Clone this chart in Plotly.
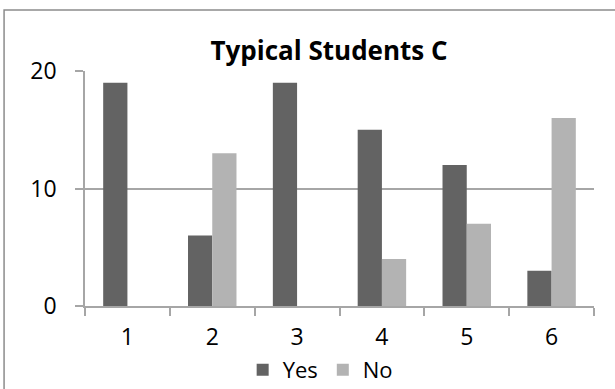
import plotly.graph_objects as go

categories = ["1", "2", "3", "4", "5", "6"]
yes_values = [19, 6, 19, 15, 12, 3]
no_values = [0, 13, 0, 4, 7, 16]
y_ticks = [0, 10, 20]

FONT = "Open Sans"
GRID = "#a6a6a6"

fig = go.Figure()
fig.add_trace(go.Bar(name="Yes", x=categories, y=yes_values,
                     marker=dict(color="#636363", line=dict(width=0))))
fig.add_trace(go.Bar(name="No", x=categories, y=no_values,
                     marker=dict(color="#b3b3b3", line=dict(width=0))))

fig.update_layout(
    width=615, height=389,
    margin=dict(l=85, r=21, t=71, b=83, autoexpand=False),
    paper_bgcolor="white", plot_bgcolor="white",
    barmode="group", bargap=1.5 / 3.5, bargroupgap=0,
    font=dict(family=FONT, size=23, color="black"),
    title=dict(text="<b>Typical Students C</b>", x=0.535, xanchor="center",
               xref="container", y=1 - 51 / 389, yref="container", yanchor="middle",
               font=dict(family=FONT, size=26, color="black")),
    showlegend=True,
    legend=dict(orientation="h", x=0.462, xanchor="center", y=-0.272, yanchor="middle",
                font=dict(family=FONT, size=22), itemwidth=30, tracegroupgap=0,
                bgcolor="rgba(0,0,0,0)"),
    xaxis=dict(type="category", tickson="boundaries", ticks="outside", ticklen=8,
               tickcolor=GRID, tickwidth=1.5, showline=True, linecolor=GRID, linewidth=1.5,
               showgrid=False, ticklabelstandoff=10, fixedrange=True),
    yaxis=dict(range=[0, 20], tickvals=y_ticks, ticks="outside", ticklen=8,
               tickcolor=GRID, tickwidth=1.5, showline=True, linecolor=GRID, linewidth=1.5,
               showgrid=True, gridcolor=GRID, gridwidth=1.5, zeroline=False,
               ticklabelstandoff=14, fixedrange=True),
)

# chart frame (runs off the right and bottom edges)
fig.add_shape(type="rect", xref="paper", yref="paper",
              x0=-0.159, x1=1.2, y0=-0.5, y1=1.2596,
              line=dict(color="#8c8c8c", width=1.5), fillcolor="rgba(0,0,0,0)", layer="below")

fig.write_html("out.html")
